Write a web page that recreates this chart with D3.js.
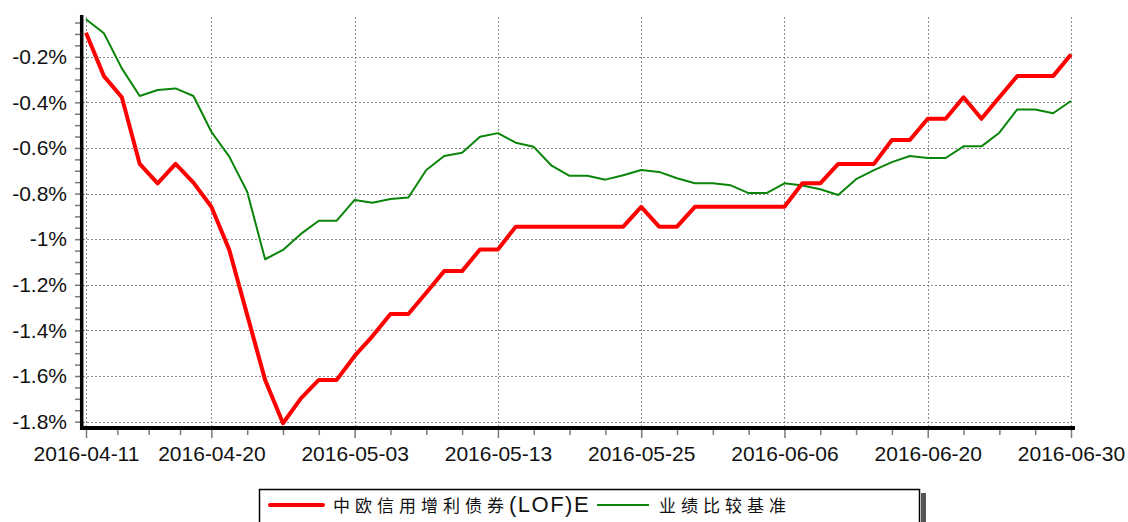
<!DOCTYPE html>
<html>
<head>
<meta charset="utf-8">
<script src="https://cdn.jsdelivr.net/npm/d3@7"></script>
<style>
  body { margin: 0; background: #fff; }
  svg { display: block; font-family: "Liberation Sans", Arial, sans-serif; }
</style>
</head>
<body>
<div class="holder"></div>
<script>
// trading days, 2016-04-11 .. 2016-06-30
var dates = ['2016-04-11','2016-04-12','2016-04-13','2016-04-14','2016-04-15',
  '2016-04-18','2016-04-19','2016-04-20','2016-04-21','2016-04-22',
  '2016-04-25','2016-04-26','2016-04-27','2016-04-28','2016-04-29',
  '2016-05-03','2016-05-04','2016-05-05','2016-05-06',
  '2016-05-09','2016-05-10','2016-05-11','2016-05-12','2016-05-13',
  '2016-05-16','2016-05-17','2016-05-18','2016-05-19','2016-05-20',
  '2016-05-23','2016-05-24','2016-05-25','2016-05-26','2016-05-27',
  '2016-05-30','2016-05-31','2016-06-01','2016-06-02','2016-06-03',
  '2016-06-06','2016-06-07','2016-06-08',
  '2016-06-13','2016-06-14','2016-06-15','2016-06-16','2016-06-17',
  '2016-06-20','2016-06-21','2016-06-22','2016-06-23','2016-06-24',
  '2016-06-27','2016-06-28','2016-06-29','2016-06-30']

// 中欧信用增利债券(LOF)E, cumulative return %
var fundValues = [-0.095,-0.285,-0.378,-0.670,-0.755,-0.670,-0.752,-0.858,-1.047,-1.332,
  -1.617,-1.807,-1.698,-1.617,-1.617,-1.512,-1.425,-1.328,-1.328,-1.235,
  -1.140,-1.140,-1.045,-1.045,-0.945,-0.945,-0.945,-0.945,-0.945,-0.945,
  -0.945,-0.858,-0.945,-0.945,-0.858,-0.858,-0.858,-0.858,-0.858,-0.858,
  -0.755,-0.755,-0.670,-0.670,-0.670,-0.565,-0.565,-0.472,-0.472,-0.378,
  -0.472,-0.378,-0.285,-0.285,-0.285,-0.190]

// 业绩比较基准
var benchValues = [-0.036,-0.097,-0.251,-0.372,-0.346,-0.339,-0.372,-0.529,-0.638,-0.792,
  -1.088,-1.047,-0.977,-0.919,-0.919,-0.828,-0.840,-0.824,-0.817,-0.697,
  -0.635,-0.621,-0.551,-0.535,-0.577,-0.595,-0.678,-0.722,-0.722,-0.739,
  -0.720,-0.697,-0.705,-0.733,-0.755,-0.755,-0.764,-0.798,-0.798,-0.755,
  -0.765,-0.781,-0.806,-0.737,-0.697,-0.662,-0.635,-0.644,-0.644,-0.593,
  -0.593,-0.533,-0.431,-0.431,-0.448,-0.394]

var xTickLabels = ['2016-04-11','2016-04-20','2016-05-03','2016-05-13','2016-05-25','2016-06-06','2016-06-20','2016-06-30']
var yTicks = [-1.8,-1.6,-1.4,-1.2,-1,-0.8,-0.6,-0.4,-0.2]
var seriesNames = ['中欧信用增利债券', '(LOF)E', '业绩比较基准']

var W = 1128, H = 522
var plotTop = 15, plotBottom = 428, plotLeft = 86, plotRight = 1071

var svg = d3.select('.holder').append('svg')
  .attr('width', W)
  .attr('height', H)

var xScale = d3.scaleLinear()
  .domain([0, dates.length - 1])
  .range([plotLeft, plotRight])

var yScale = d3.scaleLinear()
  .domain([-1.828, -0.017])
  .range([plotBottom, plotTop])

var majorIdx = xTickLabels.map(function(d){ return dates.indexOf(d) })
var minorIdx = []
for (var k = 0; k < majorIdx.length - 1; k++) {
  for (var j = 1; j < 4; j++) minorIdx.push(majorIdx[k] + (majorIdx[k+1] - majorIdx[k]) * j / 4)
}
var yMinor = d3.range(-1.75, -0.01, 0.05).filter(function(v){
  return Math.abs(Math.round(v * 5) - v * 5) > 0.01
})

// grid
var grid = svg.append('g').attr('stroke', '#8a8a8a').attr('stroke-width', 1).attr('stroke-dasharray', '2,2')
grid.selectAll('.hg').data(yTicks).enter().append('line')
  .attr('x1', plotLeft - 3).attr('x2', plotRight)
  .attr('y1', function(d){ return Math.round(yScale(d)) + 0.5 })
  .attr('y2', function(d){ return Math.round(yScale(d)) + 0.5 })
grid.selectAll('.vg').data(majorIdx).enter().append('line')
  .attr('y1', plotTop + 2).attr('y2', plotBottom)
  .attr('x1', function(d){ return Math.round(xScale(d)) + 0.5 })
  .attr('x2', function(d){ return Math.round(xScale(d)) + 0.5 })

// y axis
var yAxisMinor = svg.append('g')
  .attr('transform', 'translate(80,0)')
  .call(d3.axisLeft(yScale).tickValues(yMinor).tickSize(5).tickFormat(''))
var yAxis = svg.append('g')
  .attr('transform', 'translate(80,0)')
  .call(d3.axisLeft(yScale).tickValues(yTicks).tickSize(5).tickPadding(8)
    .tickFormat(function(d){ return (+d.toFixed(1)) + '%' }))

// x axis
var xAxisMinor = svg.append('g')
  .attr('transform', 'translate(0,430)')
  .call(d3.axisBottom(xScale).tickValues(minorIdx).tickSize(5).tickFormat(''))
var xAxis = svg.append('g')
  .attr('transform', 'translate(0,430)')
  .call(d3.axisBottom(xScale).tickValues(majorIdx).tickSize(8).tickPadding(8)
    .tickFormat(function(d){ return dates[d] }))

svg.selectAll('.domain').remove()
svg.selectAll('.tick line').attr('stroke', '#7a7a7a').attr('stroke-width', 1.5)
svg.selectAll('.tick text').style('font-size', '21px').attr('fill', '#111')
  .style('font-family', '"Liberation Sans", Arial, sans-serif')

// axis lines
svg.append('line').attr('x1', 81.7).attr('x2', 81.7).attr('y1', plotTop).attr('y2', plotBottom + 2)
  .attr('stroke', '#000').attr('stroke-width', 3.5)
svg.append('line').attr('x1', 80).attr('x2', plotRight + 4).attr('y1', plotBottom).attr('y2', plotBottom)
  .attr('stroke', '#000').attr('stroke-width', 4)

// lines
var line = d3.line()
  .x(function(d, i){ return xScale(i) })
  .y(function(d){ return yScale(d) })

svg.append('path').datum(benchValues)
  .attr('d', line)
  .attr('fill', 'none')
  .attr('stroke', '#0a850a')
  .attr('stroke-width', 2)
  .attr('stroke-linejoin', 'round')

svg.append('path').datum(fundValues)
  .attr('d', line)
  .attr('fill', 'none')
  .attr('stroke', '#ff0000')
  .attr('stroke-width', 4)
  .attr('stroke-linejoin', 'round')

// legend
var legend = svg.append('g').attr('id', 'legend')
legend.append('rect').attr('x', 921).attr('y', 493).attr('width', 5).attr('height', 40).attr('fill', '#555')
legend.append('rect').attr('x', 259.5).attr('y', 489.5).attr('width', 660).attr('height', 45)
  .attr('fill', '#fff').attr('stroke', '#000').attr('stroke-width', 1.5)

legend.append('line').attr('x1', 270).attr('x2', 323).attr('y1', 505).attr('y2', 505)
  .attr('stroke', '#ff0000').attr('stroke-width', 4).attr('stroke-linecap', 'round')
var t1 = legend.append('text').attr('x', 333).attr('y', 512).attr('fill', '#111')
t1.append('tspan').text(seriesNames[0])
  .style('font-family', '"Noto Sans CJK SC", sans-serif').style('font-size', '17px')
  .style('letter-spacing', '5px')
t1.append('tspan').text(seriesNames[1])
  .style('font-size', '22px').style('letter-spacing', '1.5px')

legend.append('line').attr('x1', 597).attr('x2', 649).attr('y1', 505).attr('y2', 505)
  .attr('stroke', '#0a850a').attr('stroke-width', 2)
legend.append('text').attr('x', 659).attr('y', 512).attr('fill', '#111')
  .text(seriesNames[2])
  .style('font-family', '"Noto Sans CJK SC", sans-serif').style('font-size', '17px')
  .style('letter-spacing', '5px')
</script>
</body>
</html>
